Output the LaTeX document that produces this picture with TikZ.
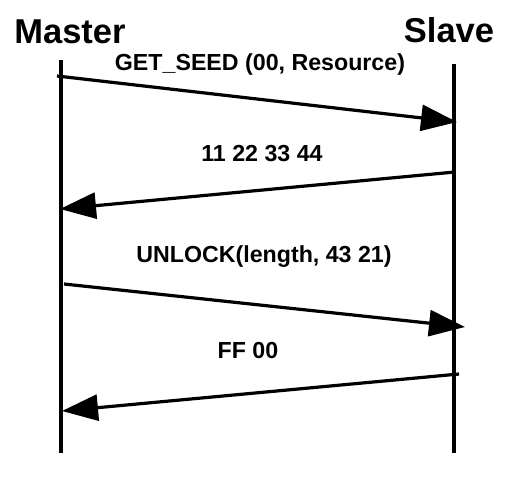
\documentclass[tikz,border=0pt]{standalone}
\usepackage{fontspec}
\setmainfont{Liberation Sans}
\usetikzlibrary{arrows.meta}
\begin{document}
\begin{tikzpicture}[x=1pt,y=-1pt,
  life/.style={line width=3.2pt},
  msg/.style={line width=3.2pt,-{Triangle[length=36pt,width=26pt]}},
  actor/.style={font=\bfseries\fontsize{34.5}{34.5}\selectfont,inner sep=0pt},
  lbl/.style={font=\bfseries\fontsize{23.2}{23.2}\selectfont,inner sep=0pt}]
\useasboundingbox (0,0) rectangle (512,477);
\node[actor,anchor=base] (master) at (70,43) {Master};
\node[actor,anchor=base] (slave) at (449,42) {Slave};
\coordinate (mtop) at (61,60);
\coordinate (mbot) at (61,453);
\coordinate (stop) at (454,64);
\coordinate (sbot) at (454,453);
\draw[life] (mtop) -- (mbot);
\draw[life] (stop) -- (sbot);
\coordinate (a1s) at (57,76);
\coordinate (a1e) at (457,122);
\coordinate (a2s) at (455,172);
\coordinate (a2e) at (60,209);
\coordinate (a3s) at (64,284);
\coordinate (a3e) at (465,327);
\coordinate (a4s) at (459,374);
\coordinate (a4e) at (62,411);
\draw[msg] (a1s) -- (a1e);
\draw[msg] (a2s) -- (a2e);
\draw[msg] (a3s) -- (a3e);
\draw[msg] (a4s) -- (a4e);
\node[lbl,anchor=base] (l1) at (260,70) {GET\_SEED (00, Resource)};
\node[lbl,anchor=base] (l2) at (262,161) {11 22 33 44};
\node[lbl,anchor=base] (l3) at (264,262) {UNLOCK(length, 43 21)};
\node[lbl,anchor=base] (l4) at (248,358) {FF 00};
\end{tikzpicture}
\end{document}
